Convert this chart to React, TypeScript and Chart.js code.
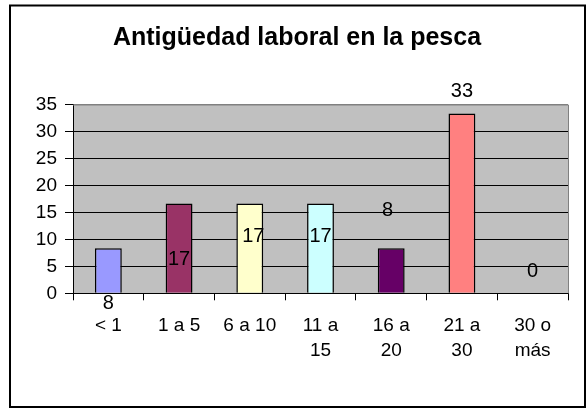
import React, { useEffect, useRef } from "react";
import { Chart, registerables } from "chart.js";

Chart.register(...registerables);

const TITLE = "Antigüedad laboral en la pesca";
const CATEGORIES: (string | string[])[] = ["< 1", "1 a 5", "6 a 10", ["11 a", "15"], ["16 a", "20"], ["21 a", "30"], ["30 o", "más"]];
const VALUES = [8.33, 16.67, 16.67, 16.67, 8.33, 33.33, 0];
const BAR_COLORS = ["#9999FF", "#993366", "#FFFFCC", "#CCFFFF", "#660066", "#FF8080", "#0066CC"];
// where Excel placed each data label, in axis units (value axis) and category offset
const LABEL_AT = [-1.9, 6.2, 10.5, 10.5, 15.3, 37.5, 4.0];
const LABEL_DX = [0, 0, 0.05, 0, -0.05, 0, 0];
const Y_MIN = 0;
const Y_MAX = 35;
const Y_STEP = 5;

const FONT = "'Liberation Sans', Arial, sans-serif";

export default function App() {
  const ref = useRef<HTMLCanvasElement | null>(null);

  useEffect(() => {
    if (!ref.current) return;

    const decor = {
      id: "decor",
      beforeDraw(chart: any) {
        const { ctx, chartArea } = chart;
        ctx.save();
        ctx.fillStyle = "#FFFFFF";
        ctx.fillRect(0, 0, chart.width, chart.height);
        ctx.fillStyle = "#C0C0C0";
        ctx.fillRect(chartArea.left, chartArea.top, chartArea.right - chartArea.left, chartArea.bottom - chartArea.top);
        ctx.restore();
      },
      afterDraw(chart: any) {
        const { ctx, chartArea } = chart;
        ctx.save();
        ctx.strokeStyle = "#808080";
        ctx.lineWidth = 1;
        ctx.beginPath();
        ctx.moveTo(chartArea.left, chartArea.top + 0.5);
        ctx.lineTo(chartArea.right + 0.5, chartArea.top + 0.5);
        ctx.lineTo(chartArea.right + 0.5, chartArea.bottom);
        ctx.stroke();
        ctx.strokeStyle = "#000000";
        ctx.lineWidth = 2;
        ctx.strokeRect(10, 5.5, 575, 401.5);
        ctx.restore();
      },
      afterDatasetsDraw(chart: any) {
        const { ctx } = chart;
        const xs = chart.scales.x;
        const ys = chart.scales.y;
        ctx.save();
        ctx.fillStyle = "#000000";
        ctx.font = `20px ${FONT}`;
        ctx.textAlign = "center";
        ctx.textBaseline = "middle";
        VALUES.forEach((v, i) => {
          const x = xs.getPixelForValue(i + LABEL_DX[i]);
          const y = ys.getPixelForValue(LABEL_AT[i]);
          ctx.fillText(String(Math.round(v)), x, y);
        });
        ctx.restore();
      },
    };

    const chart = new Chart(ref.current, {
      type: "bar",
      data: {
        labels: CATEGORIES as any,
        datasets: [
          {
            data: VALUES,
            backgroundColor: BAR_COLORS,
            borderColor: "#000000",
            borderWidth: 1.5,
            barPercentage: 0.38,
            categoryPercentage: 1,
          },
        ],
      },
      options: {
        responsive: false,
        animation: false,
        layout: { padding: { left: 26, right: 20, top: 0, bottom: 0 } },
        plugins: {
          legend: { display: false },
          tooltip: { enabled: false },
          title: {
            display: true,
            text: TITLE,
            color: "#000000",
            font: { family: FONT, size: 25, weight: "bold", lineHeight: 1.2 },
            padding: { top: 23, bottom: 51.5 },
          },
        },
        scales: {
          x: {
            grid: {
              display: true,
              offset: true,
              drawOnChartArea: false,
              drawTicks: true,
              tickLength: 7,
              color: "#000000",
            },
            border: { display: true, color: "#000000", width: 1 },
            ticks: {
              color: "#000000",
              font: { family: FONT, size: 19, lineHeight: "25.3px" } as any,
              padding: 13,
              maxRotation: 0,
              autoSkip: false,
            },
            afterFit(scale: any) {
              scale.height = 118.7;
            },
          },
          y: {
            min: Y_MIN,
            max: Y_MAX,
            grid: {
              color: (c: any) => (c.tick && c.tick.value === Y_MAX ? "#808080" : "#000000"),
              tickColor: "#000000",
              tickLength: 8,
              lineWidth: 1,
            },
            border: { display: true, color: "#000000", width: 1 },
            ticks: {
              stepSize: Y_STEP,
              color: "#000000",
              font: { family: FONT, size: 19 },
              padding: 8,
            },
            afterFit(scale: any) {
              scale.width = 47;
            },
          },
        },
      },
      plugins: [decor],
    });

    return () => chart.destroy();
  }, []);

  return (
    <div style={{ position: "absolute", left: 0, top: 0, width: 588, height: 412 }}>
      <canvas ref={ref} width={588} height={412} style={{ display: "block" }} />
    </div>
  );
}
